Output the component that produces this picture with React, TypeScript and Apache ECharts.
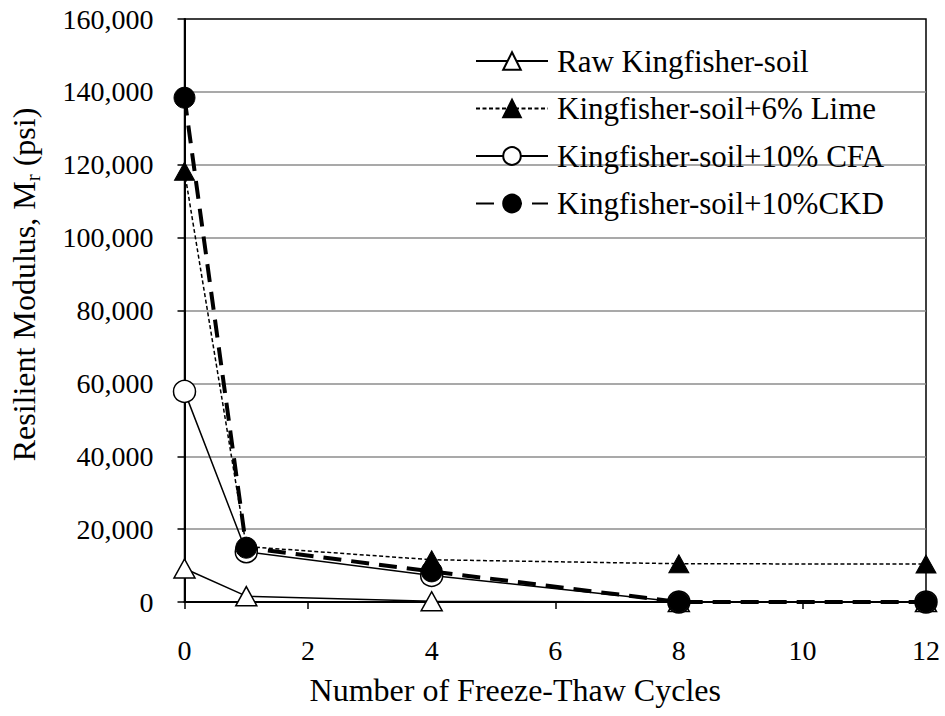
import React, { useEffect, useRef } from "react";
import * as echarts from "echarts";

// Number of freeze-thaw cycles (x values)
const cycles = [0, 1, 4, 8, 12];
// Resilient modulus, psi
const rawSoil = [9200, 1600, 200, 0, 0];
const lime6 = [118200, 15200, 11600, 10500, 10400];
const cfa10 = [57800, 13800, 7300, 0, 0];
const ckd10 = [138400, 14900, 8400, 0, 0];

const seriesNames = [
  "Raw Kingfisher-soil",
  "Kingfisher-soil+6% Lime",
  "Kingfisher-soil+10% CFA",
  "Kingfisher-soil+10%CKD",
];

const xAxisRange = { min: 0, max: 12, interval: 2 };
const yAxisRange = { min: 0, max: 160000, interval: 20000 };

const xTitle = "Number of Freeze-Thaw Cycles";
const yTitle = "Resilient Modulus, M{sub|r} (psi)";

const FONT = '"Liberation Serif", "Times New Roman", serif';

const pairs = (ys: number[]) => cycles.map((x, i) => [x, ys[i]]);

export default function App() {
  const ref = useRef<HTMLDivElement>(null);

  useEffect(() => {
    if (!ref.current) return;
    const chart = echarts.init(ref.current, undefined, { renderer: "svg" });

    const base = {
      type: "line" as const,
      clip: false,
      z: 3,
    };

    chart.setOption({
      animation: false,
      backgroundColor: "#ffffff",
      textStyle: { fontFamily: FONT, color: "#000" },
      grid: {
        left: 182,
        right: 19,
        top: 19,
        bottom: 114,
        show: true,
        borderColor: "#000",
        borderWidth: 1.5,
        backgroundColor: "transparent",
      },
      legend: {
        orient: "vertical",
        left: 470,
        top: 40,
        itemWidth: 72,
        itemHeight: 22,
        itemGap: 15.5,
        selectedMode: false,
        textStyle: {
          fontFamily: FONT,
          fontSize: 31,
          color: "#000",
          lineHeight: 32,
          padding: [0, 0, 0, 4],
        },
        data: seriesNames,
      },
      xAxis: {
        type: "value",
        ...xAxisRange,
        name: xTitle,
        nameLocation: "middle",
        nameGap: 72,
        nameTextStyle: {
          fontFamily: FONT,
          fontSize: 32,
          color: "#000",
          padding: [0, 80, 0, 0],
        },
        axisLine: { show: true, onZero: false, lineStyle: { color: "#000", width: 2 } },
        axisTick: { show: true, inside: false, length: 7, lineStyle: { color: "#000", width: 1.5 } },
        axisLabel: { fontFamily: FONT, fontSize: 28, color: "#000", margin: 34 },
        splitLine: { show: false },
      },
      yAxis: {
        type: "value",
        ...yAxisRange,
        name: yTitle,
        nameLocation: "middle",
        nameGap: 141,
        nameRotate: 90,
        nameTextStyle: {
          fontFamily: FONT,
          fontSize: 32,
          color: "#000",
          padding: [0, 0, 0, 52],
          rich: {
            sub: { fontFamily: FONT, fontSize: 21, color: "#000", padding: [18, 0, 0, 0] },
          },
        },
        axisLine: { show: true, onZero: false, lineStyle: { color: "#000", width: 2 } },
        axisTick: { show: true, inside: false, length: 7, lineStyle: { color: "#000", width: 1.5 } },
        axisLabel: {
          fontFamily: FONT,
          fontSize: 28,
          color: "#000",
          margin: 31,
          formatter: (v: number) => v.toLocaleString("en-US"),
        },
        splitLine: {
          show: true,
          showMaxLine: false,
          showMinLine: false,
          lineStyle: { color: "#8c8c8c", width: 1.5 },
        },
      },
      series: [
        {
          ...base,
          name: seriesNames[0],
          data: pairs(rawSoil),
          symbol: "triangle",
          symbolSize: [21, 19],
          lineStyle: { color: "#000", width: 1.5, type: "solid" },
          itemStyle: { color: "#fff", borderColor: "#000", borderWidth: 1.5 },
        },
        {
          ...base,
          name: seriesNames[1],
          data: pairs(lime6),
          symbol: "triangle",
          symbolSize: [20, 18],
          lineStyle: { color: "#000", width: 1.5, type: [4, 2.5] },
          itemStyle: { color: "#000", borderColor: "#000", borderWidth: 1 },
        },
        {
          ...base,
          name: seriesNames[2],
          data: pairs(cfa10),
          symbol: "circle",
          symbolSize: 22,
          lineStyle: { color: "#000", width: 1.5, type: "solid" },
          itemStyle: { color: "#fff", borderColor: "#000", borderWidth: 1.5 },
        },
        {
          ...base,
          name: seriesNames[3],
          data: pairs(ckd10),
          symbol: "circle",
          symbolSize: 21,
          lineStyle: { color: "#000", width: 4, type: [18, 10] },
          itemStyle: { color: "#000", borderColor: "#000", borderWidth: 1 },
        },
      ],
    });

    return () => chart.dispose();
  }, []);

  return (
    <div
      ref={ref}
      style={{ position: "fixed", left: 0, top: 0, width: 945, height: 716, background: "#fff" }}
    />
  );
}
